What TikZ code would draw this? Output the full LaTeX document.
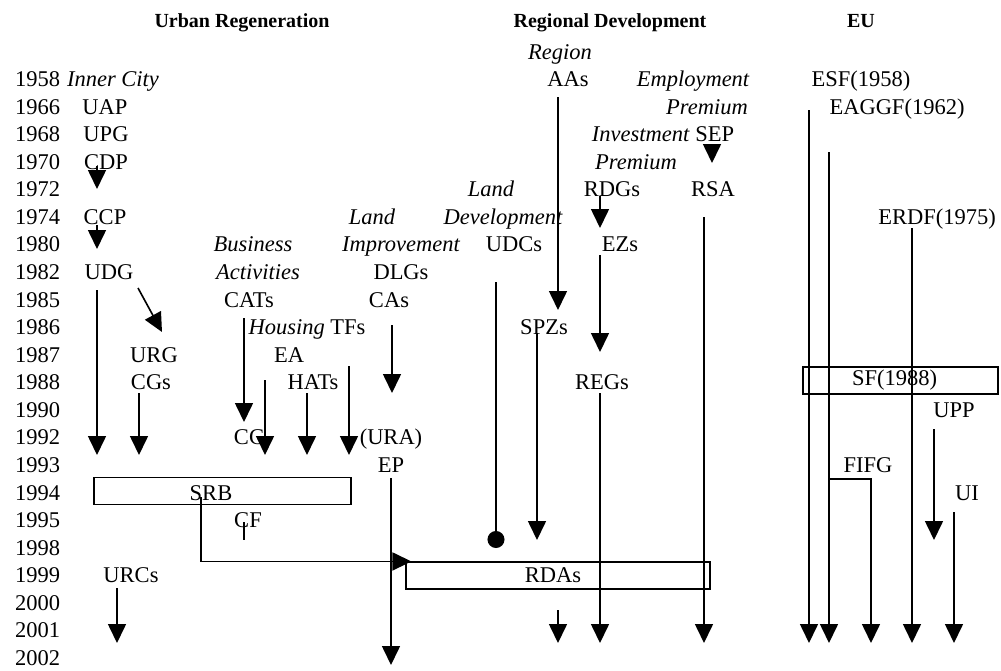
\documentclass[tikz,border=0pt]{standalone}
\usepackage{fontspec}
\setmainfont{Liberation Serif}
\usetikzlibrary{arrows.meta, positioning}

\begin{document}
\begin{tikzpicture}[
    x=1pt, y=-1pt,
    every node/.style={font=\fontsize{22.5}{26}\selectfont, inner sep=0pt, anchor=base},
    head/.style={font=\fontsize{20}{24}\selectfont\bfseries},
    tag/.style={font=\fontsize{22.5}{26}\selectfont\itshape},
    year/.style={anchor=base west},
    period/.style={draw, line width=1.1pt, minimum height=27pt, anchor=center},
    flow/.style={-{Triangle[width=18pt,length=19pt]}, line width=1.6pt},
    rule/.style={line width=1.6pt}
]
\useasboundingbox (0,0) rectangle (1001,670);

% Years
\foreach \yr [count=\i from 0] in {1958,1966,1968,1970,1972,1974,1980,1982,1985,1986,1987,
    1988,1990,1992,1993,1994,1995,1998,1999,2000,2001,2002}
    \node[year] (y\yr) at (15,{86.5+27.57*\i}) {\yr};

% Urban Regeneration
\node[head] (hur) at (242,27) {Urban Regeneration};
\node[tag] (inner) at (113,0 |- y1958.base) {Inner City};
\node (uap) at (105,0 |- y1966.base) {UAP};
\node (upg) at (106,0 |- y1968.base) {UPG};
\node (cdp) at (106,0 |- y1970.base) {CDP};
\node (ccp) at (105,0 |- y1974.base) {CCP};
\node (udg) at (109,0 |- y1982.base) {UDG};
\node (urg) at (154,0 |- y1987.base) {URG};
\node (cgs) at (151,0 |- y1988.base) {CGs};
\node (urcs) at (131,0 |- y1999.base) {URCs};
\node[tag] (business) at (253,0 |- y1980.base) {Business};
\node[tag] (activities) at (258,0 |- y1982.base) {Activities};
\node (cats) at (249,0 |- y1985.base) {CATs};
\node (tfs) at (307,0 |- y1986.base) {\textit{Housing} TFs};
\node (ea) at (289,0 |- y1987.base) {EA};
\node (hats) at (313,0 |- y1988.base) {HATs};
\node (cc) at (249,0 |- y1992.base) {CC};
\node (ura) at (391,0 |- y1992.base) {(URA)};
\node (ep) at (391,0 |- y1993.base) {EP};
\node[tag] (landi) at (372,0 |- y1974.base) {Land};
\node[tag] (improve) at (401,0 |- y1980.base) {Improvement};
\node (dlgs) at (401,0 |- y1982.base) {DLGs};
\node (cas) at (389,0 |- y1985.base) {CAs};
\node[tag] (landd) at (491,0 |- y1972.base) {Land};
\node[tag] (develop) at (503,0 |- y1974.base) {Development};
\node (udcs) at (514,0 |- y1980.base) {UDCs};
\node (cf) at (248,0 |- y1995.base) {CF};
\node[period, minimum width=257pt] (srb) at (222.5,491) {};
\node (srbl) at (211,0 |- y1994.base) {SRB};

% Regional Development
\node[head] (hrd) at (610,27) {Regional Development};
\node[tag] (region) at (560,59) {Region};
\node (aas) at (568,0 |- y1958.base) {AAs};
\node[tag] (employ) at (693,0 |- y1958.base) {Employment};
\node[tag] (premi) at (707,0 |- y1966.base) {Premium};
\node (sep) at (663,0 |- y1968.base) {\textit{Investment} SEP};
\node[tag] (premii) at (636,0 |- y1970.base) {Premium};
\node (rdgs) at (612,0 |- y1972.base) {RDGs};
\node (rsa) at (713,0 |- y1972.base) {RSA};
\node (ezs) at (620,0 |- y1980.base) {EZs};
\node (spzs) at (544,0 |- y1986.base) {SPZs};
\node (regs) at (602,0 |- y1988.base) {REGs};
\node[period, minimum width=304pt] (rdas) at (558,575.5) {RDAs\hspace*{10pt}};

% EU
\node[head] (heu) at (861,27) {EU};
\node (esf) at (861,0 |- y1958.base) {ESF(1958)};
\node (eaggf) at (897,0 |- y1966.base) {EAGGF(1962)};
\node (erdf) at (937,0 |- y1974.base) {ERDF(1975)};
\node[period, minimum width=195pt] (sf) at (900.5,380.5) {SF(1988)\hspace*{12pt}};
\node (upp) at (954,0 |- y1990.base) {UPP};
\node (fifg) at (868,0 |- y1993.base) {FIFG};
\node (ui) at (967,0 |- y1994.base) {UI};

% Flows
\foreach \n/\x/\ya/\yb in {cdp/97/166/189, ccp/97/225/249, udg/97/290/455,
    cgs/139/393/455, urcs/117/588/643, cats/244/318/422, ea/265/380/455,
    hats/307/393/455, ura/349/366/455, cas/392/325/393, ep/391/478/665,
    aas/558/97/310, spzs/537/333/540, rdgs/600/196/228, ezs/600/255/352,
    regs/600/393/643, rdas/558/610/643, rsa/704/217/643, sep/712/144/163,
    esf/809/110/643, eaggf/829/152/643, erdf/912/228/643, upp/934/429/540,
    ui/954/512/643}
{
    \coordinate (\n-top) at (\x,\ya);
    \coordinate (\n-end) at (\x,\yb);
    \draw[flow] (\n-top) -- (\n-end);
}

\coordinate (urg-top) at (138,288);
\coordinate (urg-end) at (162,332);
\draw[flow] (urg-top) -- (urg-end);

\coordinate (udcs-top) at (496,282);
\coordinate (udcs-end) at (496,548);
\draw[rule, -{Circle[length=17pt]}] (udcs-top) -- (udcs-end);

\coordinate (cf-top) at (244,522);
\coordinate (cf-end) at (244,540);
\draw[rule] (cf-top) -- (cf-end);

\coordinate (srb-top) at (201,497);
\draw[flow] (srb-top) |- ([xshift=6pt]rdas.north west);

\coordinate (fifg-top) at (829,479);
\coordinate (fifg-end) at (871,643);
\draw[flow] (fifg-top) -| (fifg-end);

\end{tikzpicture}
\end{document}
